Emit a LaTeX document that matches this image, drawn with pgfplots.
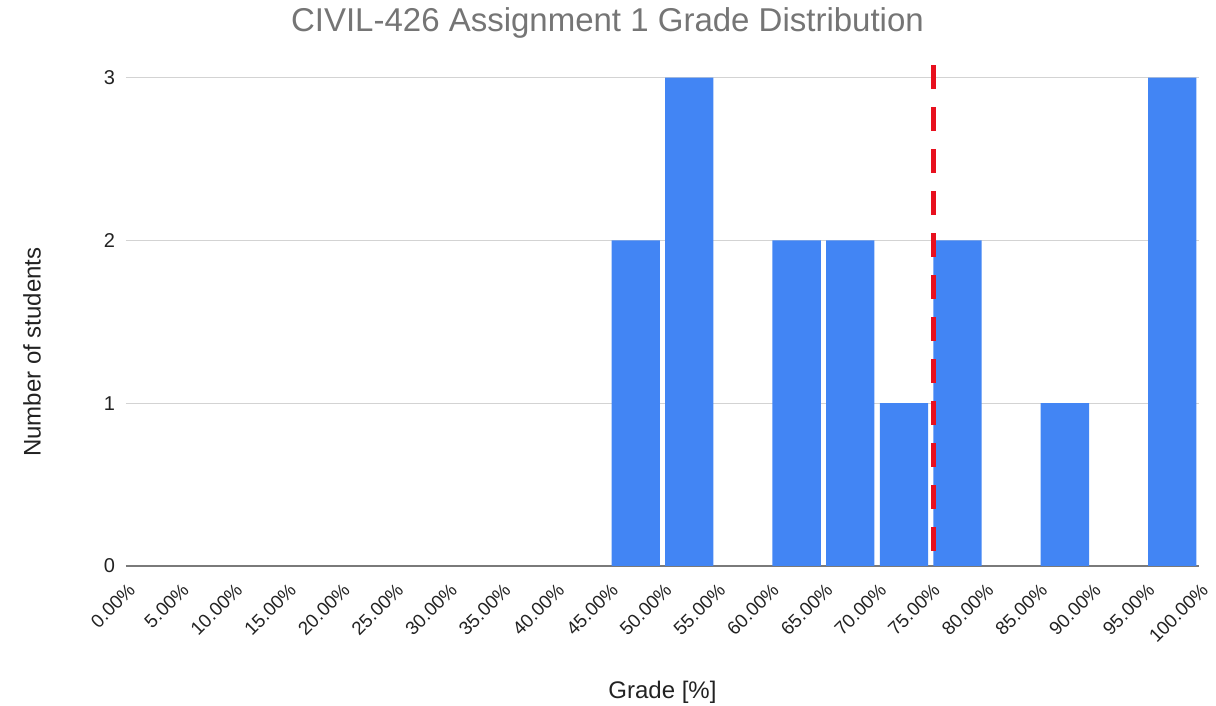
\documentclass[border=0pt]{standalone}
\usepackage{fontspec}
\setmainfont{Liberation Sans}
\usepackage{pgfplots}
\pgfplotsset{compat=1.18}
\definecolor{barblue}{HTML}{4285F4}
\definecolor{meanred}{HTML}{E8101E}
\definecolor{titlegray}{HTML}{757575}
\definecolor{gridgray}{HTML}{D3D3D3}
\definecolor{axisgray}{HTML}{7A7A7A}
\definecolor{textdark}{HTML}{222222}
\begin{document}
\begin{tikzpicture}
\path[use as bounding box] (0,0) rectangle (608pt,353pt);
\begin{axis}[
  at={(63pt,70pt)}, anchor=south west,
  scale only axis, width=536.5pt, height=244.15pt,
  xmin=0, xmax=100, ymin=0, ymax=3,
  clip=false,
  axis x line*=bottom, axis y line*=left,
  x axis line style={draw=axisgray, line width=0.8pt, -},
  y axis line style={draw=none},
  tick style={draw=none},
  ymajorgrids, major grid style={draw=gridgray, line width=0.7pt},
  xtick={0,5,...,100},
  xticklabels={0.00\%,5.00\%,10.00\%,15.00\%,20.00\%,25.00\%,30.00\%,35.00\%,40.00\%,45.00\%,50.00\%,55.00\%,60.00\%,65.00\%,70.00\%,75.00\%,80.00\%,85.00\%,90.00\%,95.00\%,100.00\%},
  ytick={0,1,2,3},
  yticklabels={0,1,2,3},
  xticklabel style={rotate=45, anchor=north east, font=\fontsize{9.4}{11}\selectfont, text=textdark, xshift=-1.8pt, yshift=-2.5pt},
  yticklabel style={font=\fontsize{10}{12}\selectfont, text=textdark, xshift=-2pt},
  title={CIVIL-426 Assignment 1 Grade Distribution},
  title style={at={(rel axis cs:0.4487,1.0936)}, anchor=base, yshift=-6pt, font=\fontsize{16.5}{20}\selectfont, text=titlegray},
  xlabel={Grade [\%]},
  xlabel style={at={(rel axis cs:0.5,-0.272)}, anchor=base, font=\fontsize{12}{14}\selectfont, text=textdark},
  ylabel={Number of students},
  ylabel style={at={(rel axis cs:-0.0876,0.438)}, anchor=center, rotate=0, font=\fontsize{12}{14}\selectfont, text=textdark},
]
\addplot[ybar, bar width=4.5, fill=barblue, draw=none] coordinates {
  (47.5,2) (52.5,3) (62.5,2) (67.5,2) (72.5,1) (77.5,2) (87.5,1) (97.5,3)
};
\addplot[draw=meanred, line width=2.5pt, dash pattern=on 12pt off 9pt] coordinates {
  (75.3,3.075) (75.3,0.086)
};
\end{axis}
\end{tikzpicture}
\end{document}
